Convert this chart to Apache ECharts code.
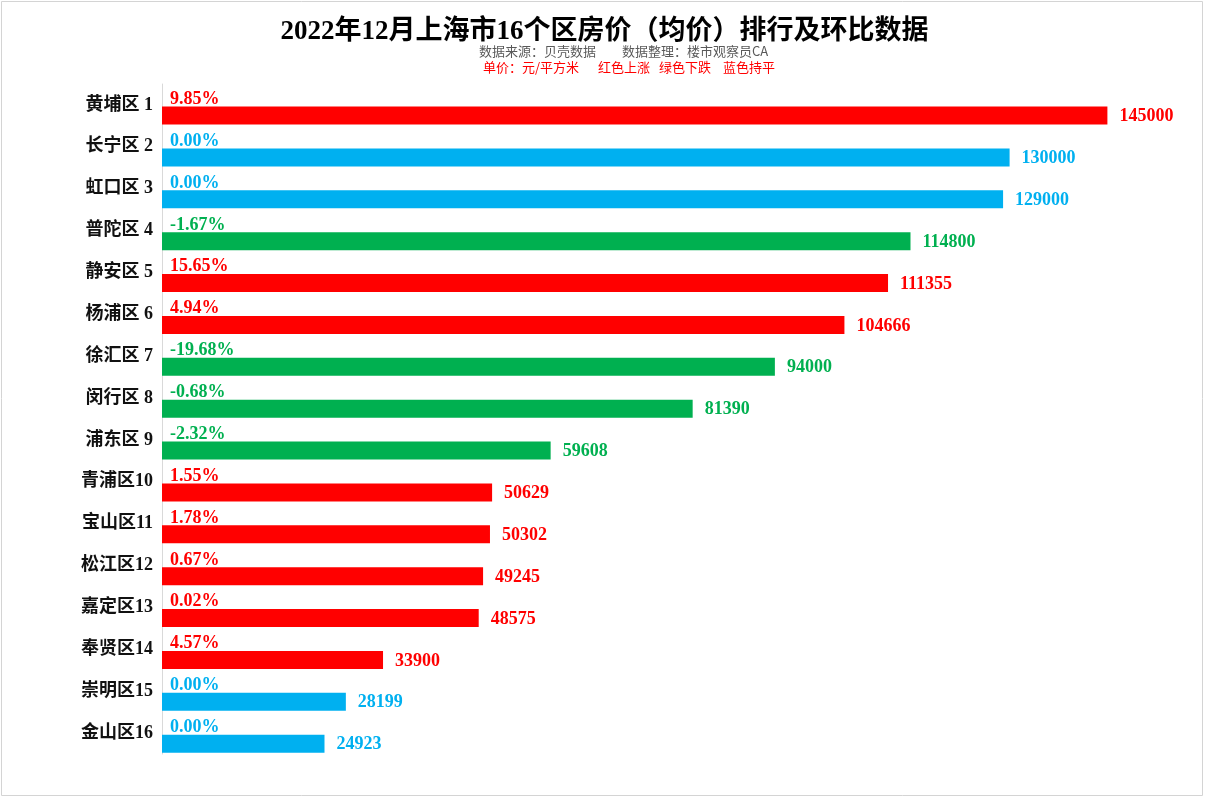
<!DOCTYPE html>
<html>
<head>
<meta charset="utf-8">
<script src="https://cdn.jsdelivr.net/npm/echarts@6/dist/echarts.min.js"></script>
<style>
html,body{margin:0;padding:0;background:#fff;}
#chart{width:1209px;height:798px;}
</style>
</head>
<body>
<div id="chart"></div>
<script>
const categories = ['黄埔区 1','长宁区 2','虹口区 3','普陀区 4','静安区 5','杨浦区 6','徐汇区 7','闵行区 8','浦东区 9','青浦区10','宝山区11','松江区12','嘉定区13','奉贤区14','崇明区15','金山区16'];
const prices = [145000,130000,129000,114800,111355,104666,94000,81390,59608,50629,50302,49245,48575,33900,28199,24923];
const changes = [9.85,0.00,0.00,-1.67,15.65,4.94,-19.68,-0.68,-2.32,1.55,1.78,0.67,0.02,4.57,0.00,0.00];

const RED = '#FF0000', GREEN = '#00B050', BLUE = '#00B0F0';
function colorOf(c){ return c > 0 ? RED : (c < 0 ? GREEN : BLUE); }
const FONT = "'Liberation Serif', 'Noto Sans CJK SC', serif";
const SUBFONT = "13px 'Noto Sans CJK SC'";

const chart = echarts.init(document.getElementById('chart'));
const option = {
  backgroundColor: '#fff',
  animation: false,
  title: {
    text: '2022年12月上海市16个区房价（均价）排行及环比数据',
    left: 'center',
    top: 14,
    textStyle: { fontFamily: FONT, fontWeight: 'bold', fontSize: 27, color: '#000' }
  },
  graphic: [
    { type: 'rect', silent: true, shape: { x: 1.5, y: 1.5, width: 1201, height: 794 },
      style: { fill: 'none', stroke: '#d4d4d4', lineWidth: 1 } },
    { type: 'text', style: { x: 479, y: 51, text: '数据来源：贝壳数据', fill: '#595959', font: SUBFONT, textVerticalAlign: 'middle' } },
    { type: 'text', style: { x: 622, y: 51, text: '数据整理：楼市观察员CA', fill: '#595959', font: SUBFONT, textVerticalAlign: 'middle' } },
    { type: 'text', style: { x: 483, y: 67, text: '单价：元/平方米', fill: RED, font: SUBFONT, textVerticalAlign: 'middle' } },
    { type: 'text', style: { x: 598, y: 67, text: '红色上涨', fill: RED, font: SUBFONT, textVerticalAlign: 'middle' } },
    { type: 'text', style: { x: 659, y: 67, text: '绿色下跌', fill: RED, font: SUBFONT, textVerticalAlign: 'middle' } },
    { type: 'text', style: { x: 723, y: 67, text: '蓝色持平', fill: RED, font: SUBFONT, textVerticalAlign: 'middle' } }
  ],
  grid: { left: 162, width: 978, top: 84, height: 670, containLabel: false },
  xAxis: {
    type: 'value', min: 0, max: 150000,
    show: false,
    splitLine: { show: false }
  },
  yAxis: {
    type: 'category',
    inverse: true,
    data: categories,
    axisLine: { show: true, lineStyle: { color: '#d9d9d9', width: 1 } },
    axisTick: { show: false },
    axisLabel: { margin: 9, color: '#111', fontFamily: FONT, fontWeight: 'bold', fontSize: 18 }
  },
  series: [
    {
      name: 'pct',
      type: 'bar',
      barWidth: 18,
      barGap: '18%',
      silent: true,
      data: changes.map(c => ({
        value: 0,
        itemStyle: { color: 'transparent' },
        label: {
          show: true, position: 'right', distance: 8, offset: [0, 5],
          formatter: c.toFixed(2) + '%',
          color: colorOf(c), fontFamily: FONT, fontWeight: 'bold', fontSize: 18
        }
      }))
    },
    {
      name: 'price',
      type: 'bar',
      barWidth: 18,
      barGap: '18%',
      data: prices.map((v, i) => ({
        value: v,
        itemStyle: { color: colorOf(changes[i]) },
        label: {
          show: true, position: 'right', distance: 12, offset: [0, 1],
          color: colorOf(changes[i]), fontFamily: FONT, fontWeight: 'bold', fontSize: 18
        }
      }))
    }
  ]
};
chart.setOption(option);
</script>
</body>
</html>
